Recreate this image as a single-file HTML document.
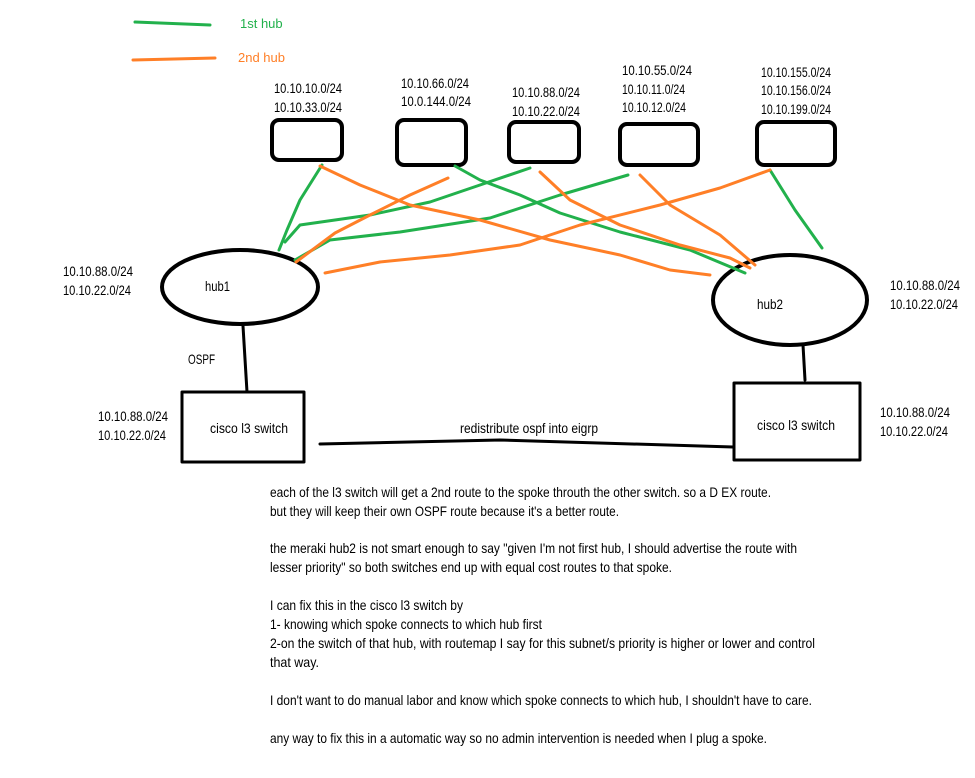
<!DOCTYPE html>
<html><head><meta charset="utf-8"><style>
html,body{margin:0;padding:0;background:#fff;}
svg{display:block;}
text{font-family:"Liberation Sans",sans-serif;font-size:14px;fill:#000;}
</style></head><body>
<svg width="975" height="778" viewBox="0 0 975 778" xmlns="http://www.w3.org/2000/svg">
<g fill="none" stroke-linecap="round" stroke-linejoin="round">
<path d="M135 22 L210 25" stroke="#22b14c" stroke-width="3"/>
<path d="M133 60 L215 58" stroke="#ff7f27" stroke-width="3"/>
<g stroke="#000" stroke-width="4">
<rect x="272" y="120" width="70" height="40" rx="7"/>
<rect x="397" y="120" width="69" height="45" rx="7"/>
<rect x="509" y="122" width="70" height="40" rx="7"/>
<rect x="620" y="124" width="78" height="41" rx="7"/>
<rect x="757" y="122" width="78" height="43" rx="7"/>
<ellipse cx="240" cy="287" rx="78" ry="37"/>
<ellipse cx="790" cy="300" rx="77" ry="45"/>
</g>
<g stroke="#000" stroke-width="3">
<rect x="182" y="392" width="122" height="70"/>
<rect x="734" y="383" width="126" height="77"/>
<path d="M243 326 L247 392"/>
<path d="M803 345 L805 380"/>
<path d="M320 444 L500 440 L733 447"/>
</g>
<g stroke="#22b14c" stroke-width="3">
<path d="M322 165 L300 200 L287 230 L279 250"/>
<path d="M455 166 L480 180 L520 195 L560 213 L620 232 L690 250 L745 273"/>
<path d="M530 168 L480 185 L430 202 L370 215 L300 225 L285 242"/>
<path d="M628 175 L560 195 L490 218 L400 232 L330 240 L295 260"/>
<path d="M770 170 L795 210 L822 248"/>
</g>
<g stroke="#ff7f27" stroke-width="3">
<path d="M320 166 L360 185 L410 205 L480 220 L550 240 L620 255 L670 270 L710 275"/>
<path d="M448 178 L410 195 L370 215 L335 233 L296 262"/>
<path d="M540 172 L570 200 L620 225 L680 245 L730 258 L750 268"/>
<path d="M640 175 L670 205 L720 235 L755 265"/>
<path d="M770 170 L720 188 L660 205 L580 225 L520 245 L450 255 L380 262 L325 273"/>
</g>
</g>
<text x="240" y="28" style="fill:#22b14c;font-size:13px">1st hub</text>
<text x="238" y="62" style="fill:#ff7f27;font-size:13px">2nd hub</text>

<text x="274" y="93" textLength="68" lengthAdjust="spacingAndGlyphs">10.10.10.0/24</text>
<text x="274" y="112" textLength="68" lengthAdjust="spacingAndGlyphs">10.10.33.0/24</text>
<text x="401" y="88" textLength="68" lengthAdjust="spacingAndGlyphs">10.10.66.0/24</text>
<text x="401" y="106" textLength="70" lengthAdjust="spacingAndGlyphs">10.0.144.0/24</text>
<text x="512" y="97" textLength="68" lengthAdjust="spacingAndGlyphs">10.10.88.0/24</text>
<text x="512" y="116" textLength="68" lengthAdjust="spacingAndGlyphs">10.10.22.0/24</text>
<text x="622" y="75" textLength="70" lengthAdjust="spacingAndGlyphs">10.10.55.0/24</text>
<text x="622" y="94" textLength="63" lengthAdjust="spacingAndGlyphs">10.10.11.0/24</text>
<text x="622" y="112" textLength="64" lengthAdjust="spacingAndGlyphs">10.10.12.0/24</text>
<text x="761" y="77" textLength="70" lengthAdjust="spacingAndGlyphs">10.10.155.0/24</text>
<text x="761" y="95" textLength="70" lengthAdjust="spacingAndGlyphs">10.10.156.0/24</text>
<text x="761" y="114" textLength="70" lengthAdjust="spacingAndGlyphs">10.10.199.0/24</text>

<text x="63" y="276" textLength="70" lengthAdjust="spacingAndGlyphs">10.10.88.0/24</text>
<text x="63" y="295" textLength="68" lengthAdjust="spacingAndGlyphs">10.10.22.0/24</text>
<text x="890" y="290" textLength="70" lengthAdjust="spacingAndGlyphs">10.10.88.0/24</text>
<text x="890" y="309" textLength="68" lengthAdjust="spacingAndGlyphs">10.10.22.0/24</text>
<text x="98" y="421" textLength="70" lengthAdjust="spacingAndGlyphs">10.10.88.0/24</text>
<text x="98" y="440" textLength="68" lengthAdjust="spacingAndGlyphs">10.10.22.0/24</text>
<text x="880" y="417" textLength="70" lengthAdjust="spacingAndGlyphs">10.10.88.0/24</text>
<text x="880" y="436" textLength="68" lengthAdjust="spacingAndGlyphs">10.10.22.0/24</text>

<text x="205" y="291" textLength="25" lengthAdjust="spacingAndGlyphs">hub1</text>
<text x="757" y="309" textLength="26" lengthAdjust="spacingAndGlyphs">hub2</text>
<text x="188" y="364" textLength="27" lengthAdjust="spacingAndGlyphs">OSPF</text>
<text x="210" y="433" textLength="78" lengthAdjust="spacingAndGlyphs">cisco l3 switch</text>
<text x="757" y="430" textLength="78" lengthAdjust="spacingAndGlyphs">cisco l3 switch</text>
<text x="460" y="433" textLength="138" lengthAdjust="spacingAndGlyphs">redistribute ospf into eigrp</text>

<g>
<text x="270" y="497" textLength="501" lengthAdjust="spacingAndGlyphs">each of the l3 switch will get a 2nd route to the spoke throuth the other switch. so a D EX route.</text>
<text x="270" y="516" textLength="349" lengthAdjust="spacingAndGlyphs">but they will keep their own OSPF route because it's a better route.</text>
<text x="270" y="553" textLength="527" lengthAdjust="spacingAndGlyphs">the meraki hub2 is not smart enough to say "given I'm not first hub, I should advertise the route with</text>
<text x="270" y="572" textLength="402" lengthAdjust="spacingAndGlyphs">lesser priority" so both switches end up with equal cost routes to that spoke.</text>
<text x="270" y="610" textLength="193" lengthAdjust="spacingAndGlyphs">I can fix this in the cisco l3 switch by</text>
<text x="270" y="629" textLength="272" lengthAdjust="spacingAndGlyphs">1- knowing which spoke connects to which hub first</text>
<text x="270" y="648" textLength="545" lengthAdjust="spacingAndGlyphs">2-on the switch of that hub, with routemap I say for this subnet/s priority is higher or lower and control</text>
<text x="270" y="667" textLength="49" lengthAdjust="spacingAndGlyphs">that way.</text>
<text x="270" y="705" textLength="542" lengthAdjust="spacingAndGlyphs">I don't want to do manual labor and know which spoke connects to which hub, I shouldn't have to care.</text>
<text x="270" y="743" textLength="497" lengthAdjust="spacingAndGlyphs">any way to fix this in a automatic way so no admin intervention is needed when I plug a spoke.</text>
</g>
</svg>
</body></html>
